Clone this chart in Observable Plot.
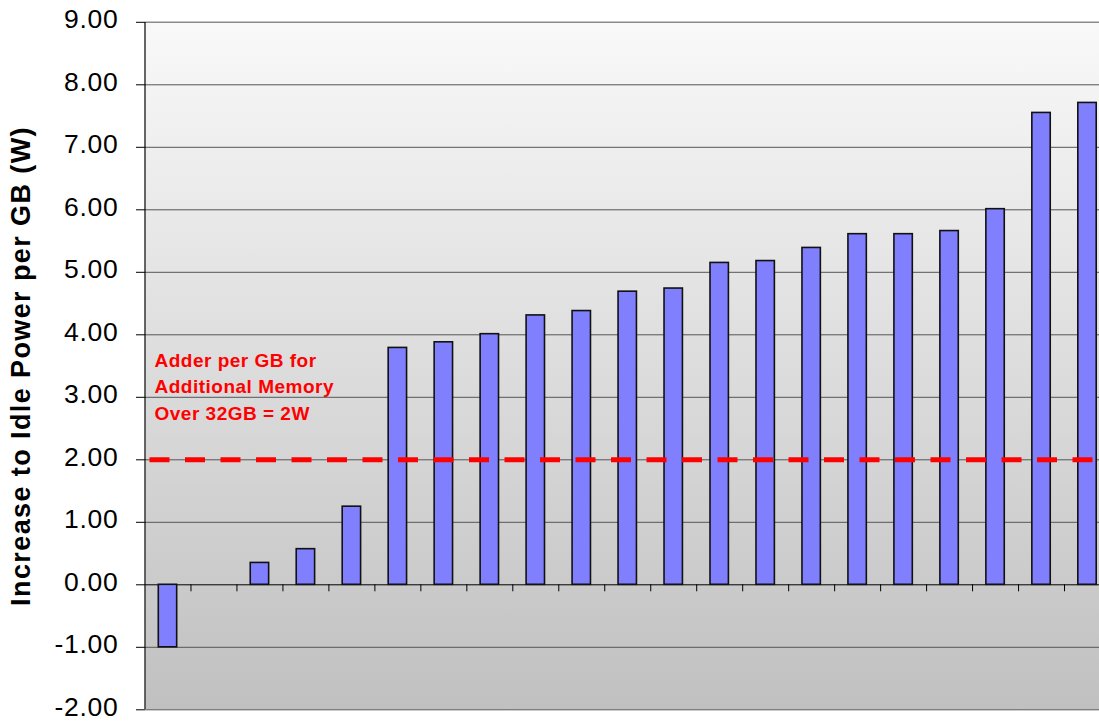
<!DOCTYPE html>
<html><head><meta charset="utf-8">
<script src="https://cdn.jsdelivr.net/npm/d3@7"></script>
<script src="https://cdn.jsdelivr.net/npm/@observablehq/plot@0.6"></script>
<style>html,body{margin:0;padding:0;background:#fff;overflow:hidden;}</style>
</head><body><div id="chart"></div>
<script>
const categories = ["1","2","3","4","5","6","7","8","9","10","11","12","13","14","15","16","17","18","19","20","21"];
const values = [-1.00, null, 0.35, 0.57, 1.25, 3.79, 3.88, 4.01, 4.31, 4.38, 4.69, 4.74, 5.15, 5.18, 5.39, 5.61, 5.61, 5.66, 6.01, 7.55, 7.71];
const yTicks = [-2, -1, 0, 1, 2, 3, 4, 5, 6, 7, 8, 9];
const threshold = 2;
const yLabel = "Increase to Idle Power per GB (W)";
const note = "Adder per GB for\nAdditional Memory\nOver 32GB = 2W";

const data = categories.map((c, i) => ({category: c, index: i, value: values[i]}));
const boundaries = d3.range(1, categories.length);

const plot = Plot.plot({
  width: 1099, height: 722,
  marginLeft: 145, marginTop: 22, marginBottom: 13, marginRight: 0,
  style: {fontFamily: "'Liberation Sans', Arial, sans-serif", background: "#fff", overflow: "visible", color: "#000"},
  x: {type: "linear", domain: [0, categories.length], range: [144.5, 1110], axis: null},
  y: {domain: [-2, 9], range: [709.3, 21.8], axis: null},
  marks: [
    Plot.frame({fill: "url(#bgGrad)", stroke: null}),
    Plot.ruleY(yTicks.filter(v => v !== 0 && v !== 9), {stroke: "#555", strokeWidth: 1}),
    Plot.ruleY([9], {stroke: "#8a8a8a", strokeWidth: 1.5}),
    Plot.ruleY([0], {stroke: "#000", strokeWidth: 1}),
    Plot.ruleX(boundaries, {x: d => d, y1: 0, y2: 0, insetBottom: -7, stroke: "#000", strokeWidth: 1}),
    Plot.ruleX([0], {stroke: "#000", strokeWidth: 1.2}),
    Plot.rectY(data.filter(d => d.value != null), {
      x1: d => d.index + 0.3, x2: d => d.index + 0.7, y1: 0, y2: "value",
      fill: "#8080ff", stroke: "#111", strokeWidth: 1.6
    }),
    Plot.ruleY([threshold], {stroke: "#ff0000", strokeWidth: 5, strokeDasharray: "20,15.5", strokeDashoffset: 31}),
    Plot.text([note], {
      x: 0, y: 3.78, dx: 9.5, textAnchor: "start", lineAnchor: "top",
      fill: "#ff0000", fontWeight: "bold", fontSize: 19, lineHeight: 1.38
    }),
    Plot.axisY({ticks: yTicks, tickFormat: d => d.toFixed(2), tickSize: 9, tickPadding: 18, fontSize: 26.5, label: null, stroke: "#000"}),
    Plot.text([yLabel], {frameAnchor: "left", rotate: -90, dx: -124, fontSize: 27, fontWeight: "bold", textAnchor: "middle", fill: "#000"})
  ]
});

const svg = d3.select(plot);
const defs = svg.insert("defs", ":first-child");
const grad = defs.append("linearGradient").attr("id", "bgGrad").attr("x1", 0).attr("y1", 0).attr("x2", 0).attr("y2", 1);
grad.append("stop").attr("offset", "0%").attr("stop-color", "#f9f9f9");
grad.append("stop").attr("offset", "100%").attr("stop-color", "#c0c0c0");
const textGroups = svg.selectAll("g[aria-label='text']").nodes();
d3.select(textGroups[0]).selectAll("text").attr("letter-spacing", "0.5px");
d3.select(textGroups[1]).selectAll("text").attr("letter-spacing", "1.4px");
svg.selectAll("g[aria-label='y-axis tick label']").each(function() {
  const t = this.getAttribute("transform") || "";
  this.setAttribute("transform", t + " translate(0,-2.5)");
});
svg.selectAll("g[aria-label='y-axis tick label'] text").attr("letter-spacing", "0.7px");
document.getElementById("chart").appendChild(plot);
</script>
</body></html>
